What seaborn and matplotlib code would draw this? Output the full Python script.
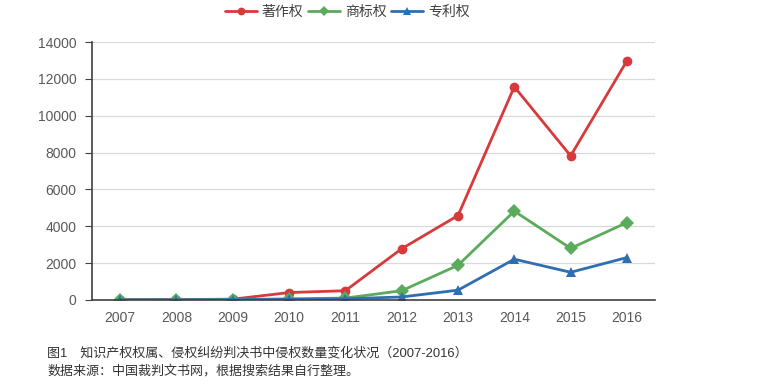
import pandas as pd
import seaborn as sns
import matplotlib.pyplot as plt
from matplotlib.ticker import FixedLocator

years = ['2007', '2008', '2009', '2010', '2011', '2012', '2013', '2014', '2015', '2016']
copyright_cases = [10, 20, 40, 400, 500, 2780, 4580, 11570, 7820, 12980]
trademark_cases = [5, 10, 20, 60, 100, 500, 1880, 4820, 2800, 4200]
patent_cases = [0, 5, 10, 30, 60, 160, 530, 2210, 1500, 2300]
series_names = ['著作权', '商标权', '专利权']
colors = ['#d83a3b', '#5bab5c', '#2f6eb0']
markers = ['o', 'D', '^']

sns.set_style('white')
plt.rcParams['font.family'] = ['Liberation Sans', 'Noto Sans CJK SC']

rows = []
for name, vals in zip(series_names, [copyright_cases, trademark_cases, patent_cases]):
    for i, v in enumerate(vals):
        rows.append({'idx': i, 'value': v, 'type': name})
df = pd.DataFrame(rows)

fig = plt.figure(figsize=(7.6, 3.89), dpi=100)
ax = fig.add_axes([0.121, 0.229, 0.741, 0.663])

ax.yaxis.grid(True, color='#d9d9d9', linewidth=0.9)
ax.set_axisbelow(True)

sns.lineplot(data=df, x='idx', y='value', hue='type', style='type',
             hue_order=series_names, style_order=series_names,
             palette=colors, markers=markers, dashes=False,
             linewidth=2, markersize=7, markeredgewidth=0, ax=ax)

ax.set_xlim(-0.5, 9.5)
ax.set_ylim(0, 14000)
ax.set_yticks(range(0, 14001, 2000))
ax.set_xticks(range(len(years)))
ax.set_xticklabels(years)
ax.xaxis.set_minor_locator(FixedLocator([i + 0.5 for i in range(-1, 10)]))
ax.tick_params(axis='x', which='major', length=0, pad=8, labelsize=10, labelcolor='#595959')
ax.tick_params(axis='x', which='minor', length=5, direction='in', color='#404040')
ax.tick_params(axis='y', length=5, direction='out', color='#404040', labelsize=10,
               labelcolor='#595959', pad=6, left=True)
ax.set_xlabel('')
ax.set_ylabel('')

for s in ['top', 'right']:
    ax.spines[s].set_visible(False)
for s in ['left', 'bottom']:
    ax.spines[s].set_color('#404040')
    ax.spines[s].set_linewidth(1.2)

handles, labels = ax.get_legend_handles_labels()
ax.legend(handles, labels, loc='center', bbox_to_anchor=(0.453, 1.115), ncol=3,
          frameon=False, fontsize=10, handlelength=2.3, handletextpad=0.35,
          columnspacing=0.35, markerscale=0.8, labelcolor='#404040')

fig.text(0.062, 0.084, '图1\u3000知识产权权属、侵权纠纷判决书中侵权数量变化状况（2007-2016）',
         fontsize=9.4, color='#333333')
fig.text(0.062, 0.037, '数据来源：中国裁判文书网，根据搜索结果自行整理。',
         fontsize=9.4, color='#333333')

fig.savefig('out.png', dpi=100)
